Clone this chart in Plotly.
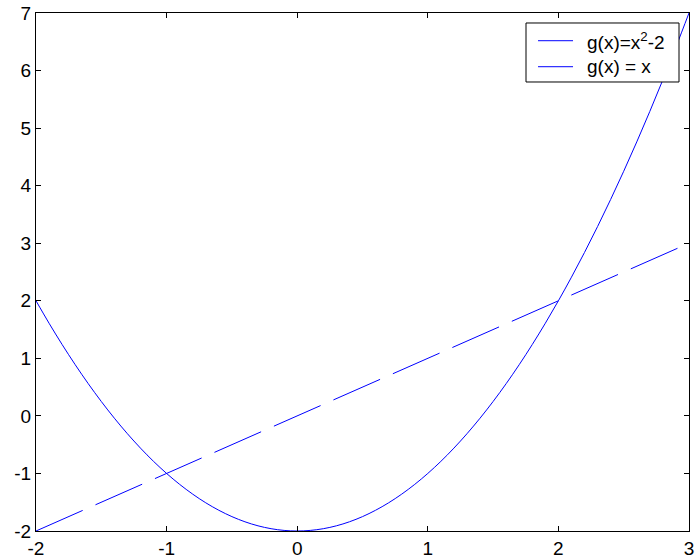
import plotly.graph_objects as go

# sampled curve g(x) = x^2 - 2
x_quad = [-2.0, -1.9, -1.8, -1.7, -1.6, -1.5, -1.4, -1.3, -1.2, -1.1, -1.0,
          -0.9, -0.8, -0.7, -0.6, -0.5, -0.4, -0.3, -0.2, -0.1, 0.0,
          0.1, 0.2, 0.3, 0.4, 0.5, 0.6, 0.7, 0.8, 0.9, 1.0,
          1.1, 1.2, 1.3, 1.4, 1.5, 1.6, 1.7, 1.8, 1.9, 2.0,
          2.1, 2.2, 2.3, 2.4, 2.5, 2.6, 2.7, 2.8, 2.9, 3.0]
y_quad = [2.0, 1.61, 1.24, 0.89, 0.56, 0.25, -0.04, -0.31, -0.56, -0.79, -1.0,
          -1.19, -1.36, -1.51, -1.64, -1.75, -1.84, -1.91, -1.96, -1.99, -2.0,
          -1.99, -1.96, -1.91, -1.84, -1.75, -1.64, -1.51, -1.36, -1.19, -1.0,
          -0.79, -0.56, -0.31, -0.04, 0.25, 0.56, 0.89, 1.24, 1.61, 2.0,
          2.41, 2.84, 3.29, 3.76, 4.25, 4.76, 5.29, 5.84, 6.41, 7.0]

# line g(x) = x
x_lin = [-2, 3]
y_lin = [-2, 3]

x_ticks = [-2, -1, 0, 1, 2, 3]
y_ticks = [-2, -1, 0, 1, 2, 3, 4, 5, 6, 7]

labels = ["g(x)=x<sup>2</sup>-2", "g(x) = x"]
blue = "#0000ff"
font_family = "Liberation Sans, Arial, sans-serif"

fig = go.Figure()
fig.add_trace(go.Scatter(x=x_quad, y=y_quad, mode="lines", line=dict(color=blue, width=1),
                         showlegend=False, line_shape="spline", name=labels[0]))
fig.add_trace(go.Scatter(x=x_lin, y=y_lin, mode="lines", name=labels[1],
                         line=dict(color=blue, width=1, dash="51px,14px"), showlegend=False))

axis_common = dict(showgrid=False, zeroline=False, showline=True, linecolor="black", linewidth=1,
                   mirror="ticks", ticks="inside", ticklen=5, tickcolor="black", automargin=False,
                   tickfont=dict(family=font_family, size=19, color="black"))

# legend box drawn as in the original (solid sample lines for both entries)
shapes = [dict(type="rect", xref="paper", yref="paper", x0=0.7504, x1=0.9847, y0=0.8668, y1=0.9807,
               line=dict(color="black", width=1), fillcolor="white", layer="above")]
annotations = []
legend_rows = [0.9465, 0.8963]
for lab, yr in zip(labels, legend_rows):
    shapes.append(dict(type="line", xref="paper", yref="paper", x0=0.7688, x1=0.8224, y0=yr, y1=yr,
                       line=dict(color=blue, width=1), layer="above"))
    annotations.append(dict(xref="paper", yref="paper", x=0.8407, y=yr, xanchor="left", yanchor="middle",
                            text=lab, showarrow=False,
                            font=dict(family=font_family, size=19, color="black")))

fig.update_layout(
    width=696, height=558,
    margin=dict(l=36, r=7, t=13, b=27, autoexpand=False),
    paper_bgcolor="white", plot_bgcolor="white",
    showlegend=False,
    xaxis=dict(range=[-2, 3], tickvals=x_ticks, ticktext=[str(v) for v in x_ticks], **axis_common),
    yaxis=dict(range=[-2, 7], tickvals=y_ticks, ticktext=[str(v) for v in y_ticks], **axis_common),
    shapes=shapes,
    annotations=annotations,
)

fig.write_html("out.html")
